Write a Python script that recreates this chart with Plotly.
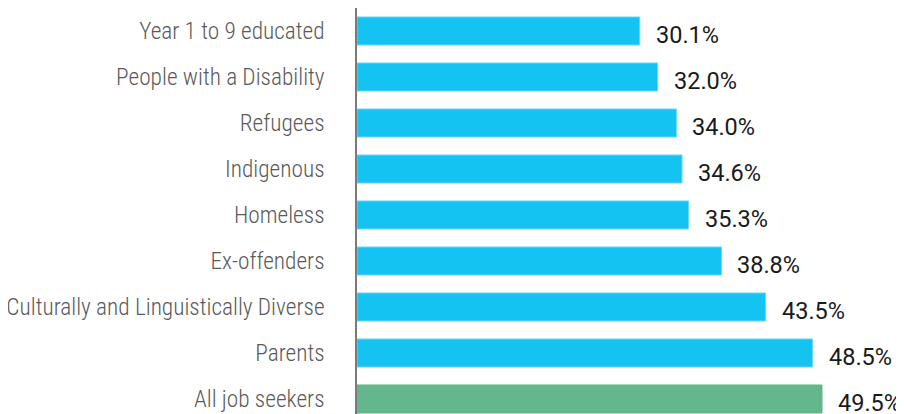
import plotly.graph_objects as go

categories = ["Year 1 to 9 educated", "People with a Disability", "Refugees", "Indigenous",
              "Homeless", "Ex-offenders", "Culturally and Linguistically Diverse", "Parents",
              "All job seekers"]
values = [30.1, 32.0, 34.0, 34.6, 35.3, 38.8, 43.5, 48.5, 49.5]
labels = ["30.1%", "32.0%", "34.0%", "34.6%", "35.3%", "38.8%", "43.5%", "48.5%", "49.5%"]
colors = ["#14c3f2"] * 8 + ["#64b68c"]
edge = ["#6fd6f6"] * 8 + ["#64b68c"]

fig = go.Figure(go.Bar(
    x=values, y=categories, orientation="h",
    marker=dict(color=colors, line=dict(color=edge, width=1)),
    hoverinfo="skip",
))

for c, v, t in zip(categories, values, labels):
    fig.add_annotation(x=v, y=c, text=t, showarrow=False, xanchor="left", yanchor="middle",
                       xshift=14, yshift=-4,
                       font=dict(family="Roboto, Arial, sans-serif", size=23.5, color="#1a1a1a"))

fig.update_layout(
    template="none",
    width=904, height=414,
    margin=dict(l=349, r=0, t=0, b=0, pad=0),
    paper_bgcolor="white", plot_bgcolor="white",
    bargap=0.39,
    showlegend=False,
    xaxis=dict(range=[0, 59.08], visible=False, fixedrange=True, automargin=False),
    yaxis=dict(
        categoryorder="array", categoryarray=categories,
        range=[8.5, -0.5],
        automargin=False,
        showline=True, linecolor="#7a7a7a", linewidth=1.5,
        showgrid=False, zeroline=False, ticks="",
        ticklabelstandoff=26,
        tickfont=dict(family="Roboto Condensed, Liberation Sans Narrow, DejaVu Sans Condensed, sans-serif",
                      size=23.3, color="#5a5a5a", weight=300),
    ),
)

fig.write_html("out.html")
